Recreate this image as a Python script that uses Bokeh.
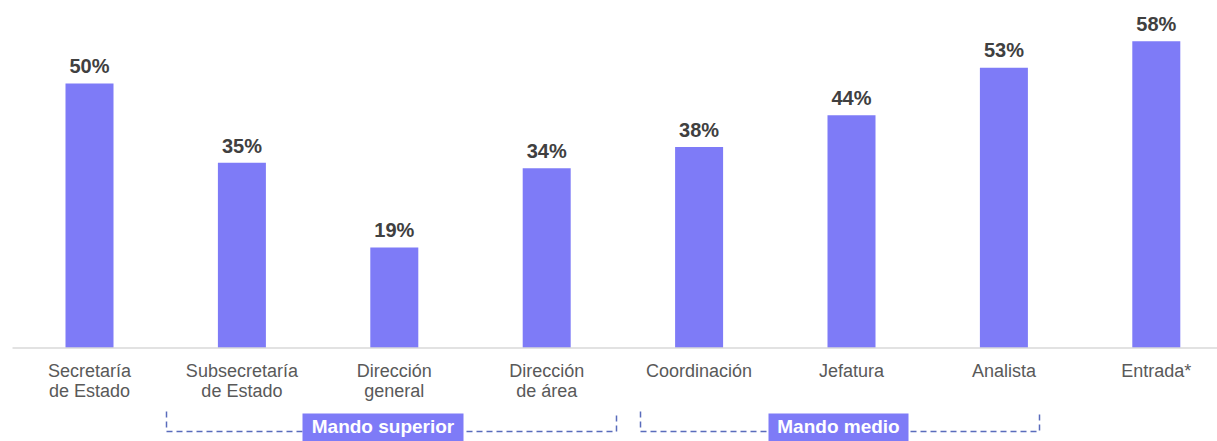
from bokeh.plotting import figure
from bokeh.models import Range1d
from bokeh.core.properties import value
from bokeh.embed import file_html
from bokeh.resources import INLINE

# ---------------- data ----------------
categories = [
    "Secretaría\nde Estado",
    "Subsecretaría\nde Estado",
    "Dirección\ngeneral",
    "Dirección\nde área",
    "Coordinación",
    "Jefatura",
    "Analista",
    "Entrada*",
]
shares = [50, 35, 19, 34, 38, 44, 53, 58]
group_names = ["Mando superior", "Mando medio"]

# ---------------- layout / style ----------------
W, H = 1217, 441
PX_PER_CAT = 152.4      # horizontal pixels per category step
PX_PER_PCT = 5.29       # vertical pixels per percentage point
X_CENTER0 = 89.0        # screen x of first category centre
Y_BASE = 347.5          # screen y of the baseline
ORIGIN = 0.0            # screen offset of the canvas

def dx(sx):
    return (sx - X_CENTER0) / PX_PER_CAT

def dy(sy):
    return (Y_BASE - sy) / PX_PER_PCT

x_start = dx(ORIGIN)
x_end = x_start + W / PX_PER_CAT
y_start = dy(ORIGIN + H)
y_end = y_start + H / PX_PER_PCT

BAR = "#7e7bf7"
FONT = value("Liberation Sans")

p = figure(width=W, height=H,
           x_range=Range1d(x_start, x_end), y_range=Range1d(y_start, y_end),
           output_backend="svg", toolbar_location=None,
           x_axis_location=None, y_axis_location=None,
           min_border=0, outline_line_color=None,
           background_fill_color="white", border_fill_color="white")
p.xgrid.grid_line_color = None
p.ygrid.grid_line_color = None

xs = list(range(len(categories)))

# bars
p.vbar(x=xs, top=shares, width=48 / PX_PER_CAT, bottom=0,
       fill_color=BAR, line_color=None)

# baseline
p.segment(x0=[dx(12)], y0=[0], x1=[x_end], y1=[0],
          line_color="#d9d9d9", line_width=1.5)

# value labels
p.text(x=xs, y=[v + 17.2 / PX_PER_PCT for v in shares],
       text=[f"{v}%" for v in shares],
       text_font=FONT, text_font_style="bold", text_font_size="20px",
       text_color="#404040", text_align="center", text_baseline="middle")

# category labels (two lines)
line1 = [c.split("\n")[0] for c in categories]
line2 = [c.split("\n")[1] if "\n" in c else "" for c in categories]
p.text(x=xs, y=[dy(370)] * len(xs), text=line1,
       text_font=FONT, text_font_size="18px", text_color="#595959",
       text_align="center", text_baseline="middle")
p.text(x=xs, y=[dy(390.5)] * len(xs), text=line2,
       text_font=FONT, text_font_size="18px", text_color="#595959",
       text_align="center", text_baseline="middle")

# group brackets
brk_left = [dx(166), dx(640)]
brk_right = [dx(616), dx(1039)]
brk_top, brk_bot = dy(411), dy(431)
p.multi_line(xs=[[l, l, r, r] for l, r in zip(brk_left, brk_right)],
             ys=[[brk_top, brk_bot, brk_bot, brk_top] for _ in brk_left],
             line_color="#5a6cbc", line_width=1.5, line_dash="6 4")

box_left = [dx(302), dx(768)]
box_right = [dx(463), dx(908)]
p.quad(left=box_left, right=box_right, top=[dy(413)] * 2, bottom=[y_start - 5] * 2,
       fill_color=BAR, line_color=None)
p.text(x=[(l + r) / 2 for l, r in zip(box_left, box_right)], y=[dy(426)] * 2,
       text=group_names, text_font=FONT, text_font_style="bold",
       text_font_size="19px", text_color="white",
       text_align="center", text_baseline="middle")

open("out.html", "w").write(file_html(p, INLINE))
